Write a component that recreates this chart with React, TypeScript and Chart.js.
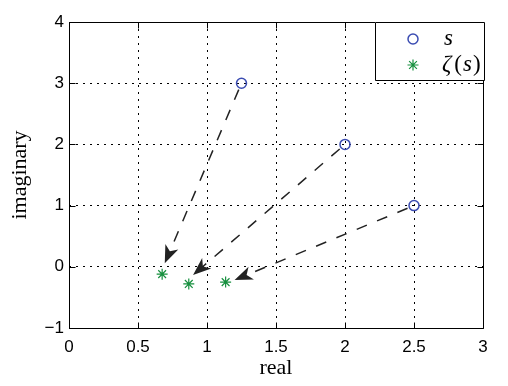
import React, { useEffect, useRef } from "react";
import { Chart, registerables } from "chart.js";

Chart.register(...registerables);

// ---- data ----
const sReal = [1.25, 2, 2.5];
const sImag = [3, 2, 1];
const zetaReal = [0.675, 0.868, 1.135];
const zetaImag = [-0.12, -0.28, -0.25];
const arrowTipReal = [0.694, 0.899, 1.2];
const arrowTipImag = [0.057, -0.134, -0.216];
const xTickLabels = ["0", "0.5", "1", "1.5", "2", "2.5", "3"];
const yTickLabels = ["\u22121", "0", "1", "2", "3", "4"];
const xTitle = "real";
const yTitle = "imaginary";

const BLUE = "#3b4cb2";
const GREEN = "#17903f";
const SANS = '"Liberation Sans", Arial, Helvetica, sans-serif';
const SERIF = '"Liberation Serif", "Times New Roman", serif';

const al = (v: number) => Math.round(v) + 0.5;

const decorPlugin = {
  id: "decor",
  beforeDatasetsDraw(chart: any) {
    const ctx = chart.ctx;
    const xs = chart.scales.x;
    const ys = chart.scales.y;
    ctx.save();
    ctx.strokeStyle = "#222";
    ctx.fillStyle = "#222";
    ctx.lineWidth = 1.5;
    for (let i = 0; i < sReal.length; i++) {
      const sx = xs.getPixelForValue(sReal[i]);
      const sy = ys.getPixelForValue(sImag[i]);
      const tx = xs.getPixelForValue(arrowTipReal[i]);
      const ty = ys.getPixelForValue(arrowTipImag[i]);
      const len = Math.hypot(tx - sx, ty - sy);
      const dx = (tx - sx) / len;
      const dy = (ty - sy) / len;
      const nx = -dy;
      const ny = dx;
      const L = 18;
      const W = 7;
      const notch = 13;
      // dashed shaft
      ctx.setLineDash([11, 11]);
      ctx.beginPath();
      ctx.moveTo(sx + dx * 7, sy + dy * 7);
      ctx.lineTo(tx - dx * notch, ty - dy * notch);
      ctx.stroke();
      ctx.setLineDash([]);
      // head
      ctx.beginPath();
      ctx.moveTo(tx, ty);
      ctx.lineTo(tx - dx * L + nx * W, ty - dy * L + ny * W);
      ctx.lineTo(tx - dx * notch, ty - dy * notch);
      ctx.lineTo(tx - dx * L - nx * W, ty - dy * L - ny * W);
      ctx.closePath();
      ctx.fill();
    }
    ctx.restore();
  },
  afterDraw(chart: any) {
    const ctx = chart.ctx;
    const { left, right, top, bottom } = chart.chartArea;
    const xs = chart.scales.x;
    const ys = chart.scales.y;
    ctx.save();
    ctx.strokeStyle = "#000";
    ctx.lineWidth = 1;
    ctx.setLineDash([]);
    // box
    ctx.beginPath();
    ctx.rect(al(left), al(top), al(right) - al(left), al(bottom) - al(top));
    ctx.stroke();
    // inward ticks
    const tl = 6;
    ctx.beginPath();
    xs.ticks.forEach((t: any) => {
      const p = al(xs.getPixelForValue(t.value));
      ctx.moveTo(p, al(bottom));
      ctx.lineTo(p, al(bottom) - tl);
      ctx.moveTo(p, al(top));
      ctx.lineTo(p, al(top) + tl);
    });
    ys.ticks.forEach((t: any) => {
      const p = al(ys.getPixelForValue(t.value));
      ctx.moveTo(al(left), p);
      ctx.lineTo(al(left) + tl, p);
      ctx.moveTo(al(right), p);
      ctx.lineTo(al(right) - tl, p);
    });
    ctx.stroke();

    // legend
    const lx = right - 108;
    const ly = top;
    const lw = 110;
    const lh = 59;
    ctx.fillStyle = "#fff";
    ctx.fillRect(lx, ly, lw, lh);
    ctx.beginPath();
    ctx.rect(lx + 0.5, ly + 0.5, lw - 1, lh - 1);
    ctx.stroke();

    const mx = lx + 38;
    // circle marker
    ctx.strokeStyle = BLUE;
    ctx.lineWidth = 1.5;
    ctx.beginPath();
    ctx.arc(mx, ly + 17, 5, 0, Math.PI * 2);
    ctx.stroke();
    // star marker
    ctx.strokeStyle = GREEN;
    ctx.lineWidth = 1.2;
    const sy2 = ly + 43;
    const r = 5.5;
    ctx.beginPath();
    ctx.moveTo(mx - r, sy2);
    ctx.lineTo(mx + r, sy2);
    ctx.moveTo(mx, sy2 - r);
    ctx.lineTo(mx, sy2 + r);
    const d = r * Math.SQRT1_2;
    ctx.moveTo(mx - d, sy2 - d);
    ctx.lineTo(mx + d, sy2 + d);
    ctx.moveTo(mx - d, sy2 + d);
    ctx.lineTo(mx + d, sy2 - d);
    ctx.stroke();

    // legend text
    ctx.fillStyle = "#000";
    ctx.textBaseline = "alphabetic";
    ctx.textAlign = "left";
    const it = `italic 23px ${SERIF}`;
    const up = `normal 23px ${SERIF}`;
    ctx.font = it;
    ctx.fillText("s", lx + 69, ly + 23);
    let x = lx + 67;
    const y2 = ly + 49;
    const parts: [string, string][] = [
      ["\u03B6", it],
      ["(", up],
      ["s", it],
      [")", up],
    ];
    parts.forEach(([txt, f], i) => {
      ctx.font = f;
      ctx.fillText(txt, x, y2);
      x += ctx.measureText(txt).width + (i === 0 ? 3 : 1);
    });
    ctx.restore();
  },
};

export default function App() {
  const ref = useRef<HTMLCanvasElement>(null);
  useEffect(() => {
    if (!ref.current) return;
    const chart = new Chart(ref.current, {
      type: "scatter",
      data: {
        datasets: [
          {
            label: "s",
            data: sReal.map((v, i) => ({ x: v, y: sImag[i] })),
            pointStyle: "circle",
            pointRadius: 5,
            borderColor: BLUE,
            backgroundColor: "rgba(0,0,0,0)",
            borderWidth: 1.5,
          },
          {
            label: "ζ(s)",
            data: zetaReal.map((v, i) => ({ x: v, y: zetaImag[i] })),
            pointStyle: "star",
            pointRadius: 5.5,
            borderColor: GREEN,
            backgroundColor: GREEN,
            borderWidth: 1.2,
          },
        ],
      },
      options: {
        responsive: false,
        animation: false,
        devicePixelRatio: 1,
        layout: { padding: { left: 0, top: 22, right: 25, bottom: 0 } },
        plugins: {
          legend: { display: false },
          tooltip: { enabled: false },
        },
        scales: {
          x: {
            type: "linear",
            min: 0,
            max: 3,
            afterFit: (s: any) => {
              s.height = 58;
            },
            ticks: {
              stepSize: 0.5,
              padding: 9,
              color: "#000",
              font: { family: SANS, size: 17 },
              callback: (_v: any, i: number) => xTickLabels[i],
            },
            grid: { color: "#000", lineWidth: 1, drawTicks: false },
            border: { display: false, dash: [2, 5] },
            title: {
              display: true,
              text: xTitle,
              color: "#000",
              font: { family: SERIF, size: 22 },
              padding: { top: 0, bottom: 5 },
            },
          },
          y: {
            type: "linear",
            min: -1,
            max: 4,
            afterFit: (s: any) => {
              s.width = 69;
            },
            ticks: {
              stepSize: 1,
              padding: 5,
              color: "#000",
              font: { family: SANS, size: 17 },
              callback: (_v: any, i: number) => yTickLabels[i],
            },
            grid: { color: "#000", lineWidth: 1, drawTicks: false },
            border: { display: false, dash: [2, 5] },
            title: {
              display: true,
              text: yTitle,
              color: "#000",
              font: { family: SERIF, size: 22 },
              padding: { top: 7, bottom: 0 },
            },
          },
        },
      } as any,
      plugins: [decorPlugin],
    });
    let alive = true;
    const fontsToLoad = [
      `italic 23px "Liberation Serif"`,
      `23px "Liberation Serif"`,
      `17px "Liberation Sans"`,
    ];
    if ((document as any).fonts && (document as any).fonts.load) {
      Promise.all(fontsToLoad.map((f) => (document as any).fonts.load(f, "sζ()real")))
        .then(() => {
          if (alive) chart.update();
        })
        .catch(() => {});
    }
    return () => {
      alive = false;
      chart.destroy();
    };
  }, []);
  return (
    <div style={{ position: "absolute", left: 0, top: 0, width: 508, height: 386, background: "#fff" }}>
      <canvas ref={ref} width={508} height={386} style={{ width: 508, height: 386, display: "block" }} />
    </div>
  );
}
